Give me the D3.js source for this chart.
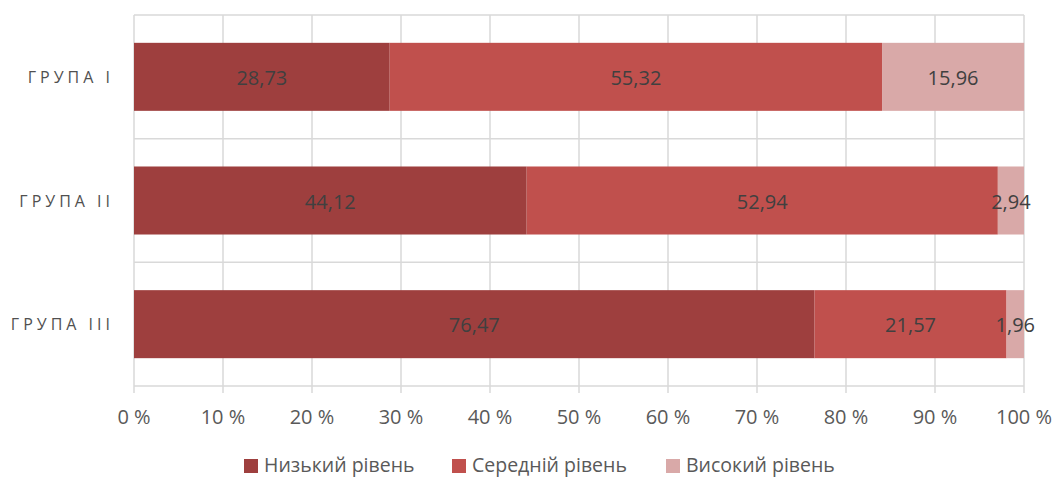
<!DOCTYPE html>
<html>
<head>
<meta charset="utf-8">
<script src="https://cdn.jsdelivr.net/npm/d3@7"></script>
<style>
  body { margin: 0; background: #fff; }
  svg { display: block; font-family: "Open Sans", sans-serif; }
</style>
</head>
<body>
<div id="chart"></div>
<script>
// chart data
const groups = ["ГРУПА I", "ГРУПА II", "ГРУПА III"];
const seriesNames = ["Низький рівень", "Середній рівень", "Високий рівень"];
const lowValues = [28.73, 44.12, 76.47];
const midValues = [55.32, 52.94, 21.57];
const highValues = [15.96, 2.94, 1.96];
const tickValues = [0, 10, 20, 30, 40, 50, 60, 70, 80, 90, 100];

const colours = ["#9e3f3e", "#c0504d", "#d9a9a8"];
const W = 1060, H = 478;
const plotL = 134, plotR = 1024, plotT = 15, plotB = 386;

const svg = d3.select("#chart").append("svg")
    .attr("width", W).attr("height", H);

const x = d3.scaleLinear().domain([0, 100]).range([plotL, plotR]);
const y = d3.scaleBand().domain(groups).range([plotT, plotB]).padding(0);
const barH = y.bandwidth() * 0.55;

// stacked rows
const rows = groups.map((g, i) => ({ group: g, vals: [lowValues[i], midValues[i], highValues[i]] }));
const stack = d3.stack().keys([0, 1, 2]).value((d, k) => d.vals[k]);
const layers = stack(rows);

// grid
const grid = svg.append("g");
grid.selectAll("line.v").data(tickValues).enter().append("line")
    .attr("x1", d => x(d)).attr("x2", d => x(d))
    .attr("y1", plotT).attr("y2", plotB + 7)
    .style("stroke", "#d9d9d9").style("stroke-width", "1.5px");
const bounds = [plotT].concat(groups.map(g => y(g) + y.bandwidth()));
grid.selectAll("line.h").data(bounds).enter().append("line")
    .attr("x1", plotL).attr("x2", plotR)
    .attr("y1", d => d).attr("y2", d => d)
    .style("stroke", "#d9d9d9").style("stroke-width", "1.5px");

// bars
layers.forEach((layer, k) => {
    svg.append("g").selectAll("rect").data(layer).enter().append("rect")
        .attr("x", d => x(d[0]))
        .attr("width", d => x(d[1]) - x(d[0]))
        .attr("y", d => y(d.data.group) + (y.bandwidth() - barH) / 2)
        .attr("height", barH)
        .style("fill", colours[k]);
});

// data labels
layers.forEach((layer, k) => {
    svg.append("g").selectAll("text").data(layer).enter().append("text")
        .attr("x", d => (x(d[0]) + x(d[1])) / 2)
        .attr("y", d => y(d.data.group) + y.bandwidth() / 2 + 8)
        .attr("text-anchor", "middle")
        .style("font-size", "20px").style("fill", "#404040")
        .text(d => d3.format(".2f")(d[1] - d[0]).replace(".", ","));
});

// category labels
svg.append("g").selectAll("text").data(groups).enter().append("text")
    .attr("x", 114)
    .attr("y", d => y(d) + y.bandwidth() / 2 + 6)
    .attr("text-anchor", "end")
    .style("font-size", "16px").style("letter-spacing", "4px").style("fill", "#505050")
    .text(d => d);

// x tick labels
svg.append("g").selectAll("text").data(tickValues).enter().append("text")
    .attr("x", d => x(d)).attr("y", 424)
    .attr("text-anchor", "middle")
    .style("font-size", "20px").style("fill", "#595959")
    .text(d => d + " %");

// legend
const legendX = [244, 452, 666];
const legend = svg.append("g").selectAll("g").data(seriesNames).enter().append("g")
    .attr("transform", (d, i) => `translate(${legendX[i]},459)`);
legend.append("rect").attr("width", 14).attr("height", 14)
    .style("fill", (d, i) => colours[i]);
legend.append("text").attr("x", 20).attr("y", 13)
    .style("font-size", "19.5px").style("fill", "#595959")
    .text(d => d);
</script>
</body>
</html>
